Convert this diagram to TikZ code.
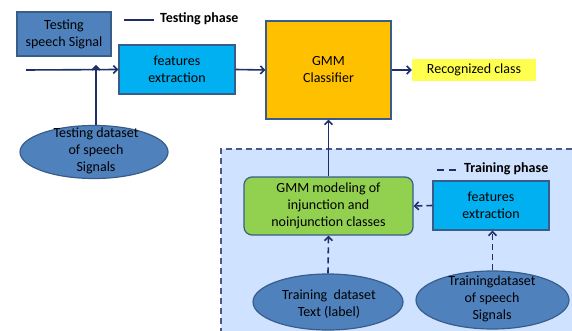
\documentclass[tikz,border=0pt]{standalone}
\usepackage{fontspec}
\setmainfont{Carlito}
\usetikzlibrary{arrows.meta,shapes.geometric}
\definecolor{bmid}{HTML}{4F81BD}
\definecolor{bline}{HTML}{385D8A}
\definecolor{cyanf}{HTML}{00B0F0}
\definecolor{gold}{HTML}{FFC000}
\definecolor{greenf}{HTML}{92D050}
\definecolor{yel}{HTML}{FFFF4F}
\definecolor{navy}{HTML}{1F2D6B}
\definecolor{lblue}{HTML}{CFE2FF}
\begin{document}
\begin{tikzpicture}[x=1pt,y=-1pt,
  box/.style={draw=bline,line width=1.2pt,inner sep=0pt,align=center,font=\fontsize{14}{17}\selectfont},
  ell/.style={ellipse,draw=bline,fill=bmid,line width=1.2pt,inner sep=0pt},
  lbl/.style={align=center,font=\fontsize{14}{17}\selectfont,inner sep=0pt},
  arr/.style={draw=navy,line width=1.6pt,-{Straight Barb[length=4pt,width=8pt]}},
  darr/.style={arr,dash pattern=on 6pt off 4pt}]
\useasboundingbox (0,0) rectangle (572,331);
% training region
\fill[lblue] (221,149) rectangle (575,334);
\draw[navy!80,line width=1.3pt,dash pattern=on 6pt off 4pt] (221,334) -- (221,149) -- (575,149);
% nodes top
\node[box,fill=bmid,minimum width=94pt,minimum height=44pt] (tss) at (64,34) {Testing\\speech Signal};
\node[box,fill=cyanf,minimum width=116pt,minimum height=49pt] (fe1) at (177,69.5) {features\\extraction};
\node[box,fill=gold,minimum width=125pt,minimum height=98pt] (gmm) at (328.5,70) {GMM\\Classifier};
\node[lbl,fill=yel,minimum width=124pt,minimum height=22pt] (rec) at (474,70) {Recognized class};
\node[ell,minimum width=148pt,minimum height=53pt] (tds) at (94,152) {};
\node[lbl] (tdst) at (96,151) {Testing dataset\\of speech\\Signals};
\coordinate (in) at (26,70);
\coordinate (join) at (96,70);
% legend testing
\coordinate (lt1) at (124,20);
\coordinate (lt2) at (154,20);
\draw[navy,line width=1.4pt] (lt1) -- (lt2);
\node[lbl,anchor=west,font=\fontsize{14}{17}\selectfont\bfseries] (ltt) at (160,19) {Testing phase};
% training nodes
\node[box,fill=greenf,rounded corners=8pt,minimum width=169pt,minimum height=58pt] (mod) at (328.5,206) {GMM modeling of\\injunction and\\noinjunction classes};
\node[box,fill=cyanf,minimum width=116pt,minimum height=49pt] (fe2) at (491,205.5) {features\\extraction};
\node[ell,minimum width=150pt,minimum height=56pt] (ttx) at (328,302) {};
\node[lbl] (ttxt) at (329,304) {Training \ dataset\\Text (label)};
\node[ell,minimum width=153pt,minimum height=58pt] (tsp) at (492.5,300) {};
\node[lbl] (tspt) at (492,299) {Trainingdataset\\of speech\\Signals};
% legend training
\coordinate (lr1) at (437,170);
\coordinate (lr2) at (458,170);
\draw[navy,line width=1.4pt,dash pattern=on 7pt off 5pt] (lr1) -- (lr2);
\node[lbl,anchor=west,font=\fontsize{14}{17}\selectfont\bfseries] (lrt) at (464,169) {Training phase};
% connectors
\draw[arr] (in) -- (fe1.west);
\draw[arr] (tds.north -| join) -- ([yshift=5pt]join);
\draw[arr] (fe1.east) -- (gmm.west);
\draw[arr] (gmm.east) -- (rec.west);
\draw[arr] (mod.north) -- (gmm.south);
\draw[darr] (fe2.west) -- (mod.east);
\draw[darr] (ttx.north) -- (mod.south);
\draw[darr] (tsp.north) -- (tsp.north |- fe2.south);
\end{tikzpicture}
\end{document}
